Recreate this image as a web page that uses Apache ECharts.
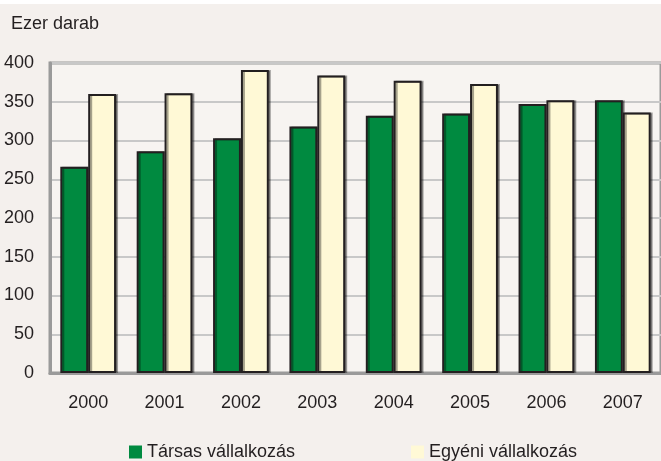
<!DOCTYPE html>
<html>
<head>
<meta charset="utf-8">
<script src="https://cdn.jsdelivr.net/npm/echarts@6/dist/echarts.min.js"></script>
<style>
  html, body { margin: 0; padding: 0; background: #f4f0ed; }
  #chart { width: 661px; height: 461px; border-top: 4px solid #fff; box-sizing: border-box; }
</style>
</head>
<body>
<div id="chart"></div>
<script>
  // adatok
  const years = ['2000', '2001', '2002', '2003', '2004', '2005', '2006', '2007']
  const tarsas = [266, 286, 303, 318, 332, 335, 347, 352]
  const egyeni = [360, 361, 391, 384, 377, 373, 352, 336]
  const yTicks = [0, 50, 100, 150, 200, 250, 300, 350, 400]

  const font = 'Liberation Sans, Arial, sans-serif'
  const chart = echarts.init(document.getElementById('chart'))

  const option = {
    backgroundColor: '#f4f0ed',
    animation: false,
    grid: {
      left: 50, right: -4, top: 59, bottom: 88,
      show: true,
      backgroundColor: '#f7f4f1',
      borderColor: '#9a9a9a',
      borderWidth: 3
    },
    title: {
      text: 'Ezer darab',
      left: 6, top: 6,
      textStyle: { fontFamily: font, fontSize: 18, fontWeight: 'normal', color: '#231f20' }
    },
    legend: [{
      data: ['Társas vállalkozás'],
      left: 124, top: 434,
      itemWidth: 13, itemHeight: 13,
      icon: 'rect',
      itemStyle: { borderWidth: 0 },
      textStyle: { fontFamily: font, fontSize: 18, color: '#231f20' }
    }, {
      data: ['Egyéni vállalkozás'],
      left: 406, top: 434,
      itemWidth: 13, itemHeight: 13,
      icon: 'rect',
      itemStyle: { borderWidth: 0 },
      textStyle: { fontFamily: font, fontSize: 18, color: '#231f20' }
    }],
    xAxis: {
      type: 'category',
      data: years,
      axisLine: { lineStyle: { color: '#9a9a9a', width: 3 } },
      axisTick: { show: false },
      axisLabel: { margin: 21, fontFamily: font, fontSize: 18, color: '#231f20' }
    },
    yAxis: {
      type: 'value',
      min: yTicks[0], max: yTicks[yTicks.length - 1], interval: 50,
      axisLine: { show: true, lineStyle: { color: '#9a9a9a', width: 3 } },
      axisTick: { show: false },
      axisLabel: { margin: 16, fontFamily: font, fontSize: 18, color: '#231f20' },
      splitLine: { lineStyle: { color: '#c8c8c8', width: 2 } }
    },
    series: [{
      name: 'Társas vállalkozás',
      type: 'bar',
      data: tarsas,
      barGap: '0%',
      barCategoryGap: '27%',
      itemStyle: {
        color: '#008a40', borderColor: '#231f20', borderWidth: 2,
        shadowColor: 'rgba(0,0,0,0.35)', shadowOffsetX: 2, shadowBlur: 0
      }
    }, {
      name: 'Egyéni vállalkozás',
      type: 'bar',
      data: egyeni,
      itemStyle: {
        color: '#fff9d6', borderColor: '#231f20', borderWidth: 2,
        shadowColor: 'rgba(0,0,0,0.35)', shadowOffsetX: 2, shadowBlur: 0
      }
    }]
  }

  chart.setOption(option)
</script>
</body>
</html>
